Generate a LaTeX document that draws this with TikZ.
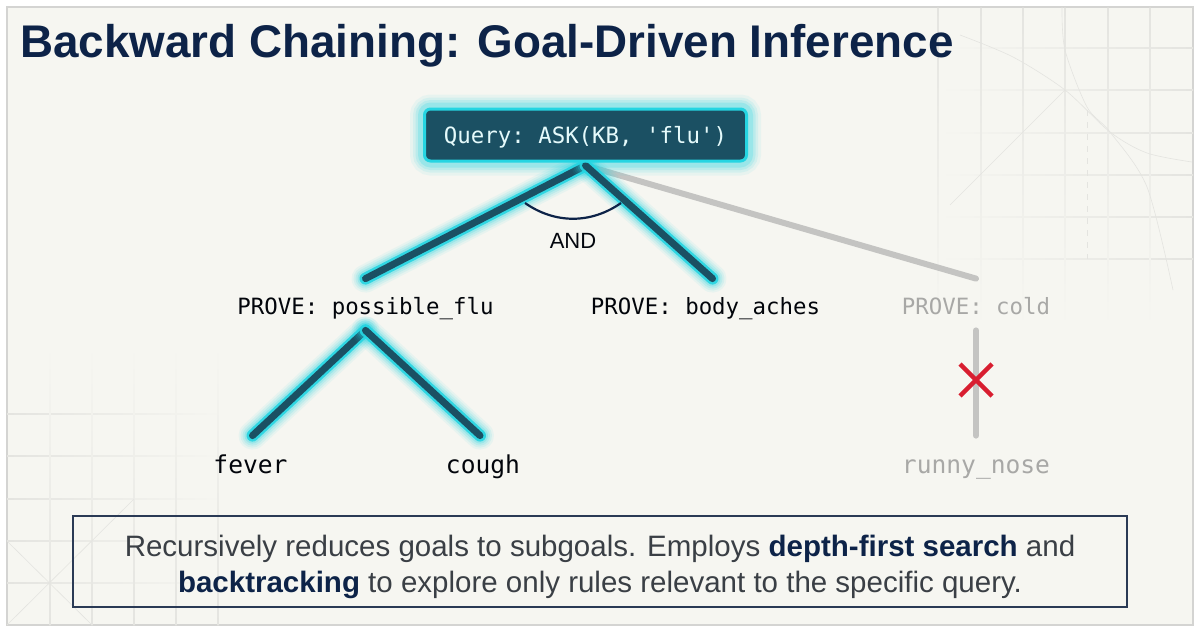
\documentclass[tikz,border=0pt]{standalone}
\usepackage{fontspec}
\setmainfont{Liberation Sans}
\setmonofont{DejaVu Sans Mono}
\usetikzlibrary{calc}
\definecolor{panel}{HTML}{F6F6F1}
\definecolor{edgegray}{HTML}{D4D4D2}
\definecolor{gridc}{HTML}{E4E4E0}
\definecolor{navy}{HTML}{0D2348}
\definecolor{boxline}{HTML}{2A3A55}
\definecolor{bodytext}{HTML}{3A3F45}
\definecolor{teal}{HTML}{1B5063}
\definecolor{cyanglow}{HTML}{25D5E2}
\definecolor{fadegray}{HTML}{C4C4C2}
\definecolor{fadetext}{HTML}{A8A8A6}
\definecolor{crossred}{HTML}{D81E30}
\pgfdeclarelayer{bg}
\pgfsetlayers{bg,main}
\newcommand{\glowpath}[1]{%
  \foreach \w/\o in {14/.07,12/.10,10/.14,8/.22,6/.9}{\draw[line width=\w pt,cyanglow,opacity=\o,line cap=round] #1;}
  \draw[line width=3.5pt,teal,line cap=round] #1;}
\tikzset{
  treetext/.style={font=\ttfamily,inner sep=0pt,text=black!85!navy},
  goal/.style={treetext,minimum height=25.5pt,minimum width=60pt,text height=11pt,text depth=1.5pt,font=\ttfamily\fontsize{11.2}{13}\selectfont},
  leaf/.style={treetext,minimum height=29pt,minimum width=40pt,text height=10pt,text depth=2pt,font=\ttfamily\fontsize{12.3}{14}\selectfont},
  fadedgoal/.style={text=fadetext},
  fadeline/.style={line width=3pt,fadegray,line cap=round},
  querybox/.style={draw=cyanglow,line width=1.5pt,fill=teal,rounded corners=3pt,minimum width=161pt,minimum height=26pt,inner sep=0pt,text height=10pt,text depth=2pt,text=white!88!cyanglow,font=\ttfamily\fontsize{11.2}{13}\selectfont},
  gridline/.style={gridc,line width=.3pt},
  summary/.style={draw=boxline,line width=.8pt,minimum width=527pt,minimum height=45.5pt,inner sep=0pt},
  summarytext/.style={inner sep=0pt,align=center,text=bodytext,font=\fontsize{14.75}{17.6}\selectfont}
}
\begin{document}
\begin{tikzpicture}[x=0.5pt,y=-0.5pt]
\useasboundingbox (0,0) rectangle (1200,632);
\begin{pgfonlayer}{bg}
\fill[white] (0,0) rectangle (1200,632);
\draw[fill=panel,draw=edgegray,line width=.6pt] (7,7) rectangle (1193,625);
% background construction grid, upper right
\foreach \y in {48,90,133,175,217,259}{\shade[left color=panel,right color=gridc] (938,\y-.45) rectangle (1193,\y+.45);}
\foreach \x in {938,981,1023,1065,1108,1150}{\shade[top color=gridc,bottom color=panel] (\x-.45,7) rectangle (\x+.45,328);}
\draw[gridline] plot[smooth] coordinates {(1062,7) (1065,50) (1087,107) (1110,132) (1147,187) (1173,290)};
\draw[gridline] plot[smooth] coordinates {(960,35) (1013,57) (1065,90) (1110,132) (1147,153) (1192,162)};
\draw[gridline] (1065,90) -- (950,205);
\draw[gridline,dashed] (1087,110) -- (1087,259);
% background construction grid, lower left
\foreach \y in {414,456,499,541,583}{\shade[left color=gridc,right color=panel] (7,\y-.45) rectangle (225,\y+.45);}
\foreach \x in {50,92,134,176,218}{\shade[top color=panel,bottom color=gridc] (\x-.45,345) rectangle (\x+.45,625);}
\draw[gridline] (7,541) -- (92,625) (7,625) -- (134,499);
\end{pgfonlayer}

\node[querybox] (q) at (585.5,135) {Query: ASK(KB, 'flu')};
\node[goal] (pf) at (365.5,304.5) {PROVE: possible\_flu};
\node[goal] (ba) at (705.5,304.5) {PROVE: body\_aches};
\node[goal,fadedgoal] (co) at (976,304.5) {PROVE: cold};
\node[leaf] (fe) at (250.5,465) {fever};
\node[leaf] (cg) at (483,465) {cough};
\node[leaf,fadedgoal] (rn) at (976,465) {runny\_nose};
\node[inner sep=0pt,text=black!80!navy,font=\fontsize{11}{14}\selectfont] (andl) at (573,241) {AND};
\coordinate (qa) at ($(q.south)+(0,3)$);
\coordinate (andl1) at (525,203);
\coordinate (andr) at (621,203);
\coordinate (xc) at (976,380);

\begin{pgfonlayer}{bg}
\draw[fadeline] (qa) -- (co.north);
\draw[fadeline] (co.south) -- (rn.north);
\foreach \w/\o in {13/.07,10/.10,7.5/.14,5/.22}{\draw[line width=\w pt,cyanglow,opacity=\o,rounded corners=4pt] (q.south west) rectangle (q.north east);}
\glowpath{(qa) -- (pf.north)}
\glowpath{(qa) -- ([xshift=3.5pt]ba.north)}
\glowpath{(pf.south) -- ([xshift=1pt]fe.north)}
\glowpath{(pf.south) -- ([xshift=-1.5pt]cg.north)}
\end{pgfonlayer}

\draw[navy,line width=1.1pt] (andl1) .. controls (555,224) and (591,224) .. (andr);
\draw[crossred,line width=2.2pt] ($(xc)+(-16,-16)$) -- ($(xc)+(16,16)$) ($(xc)+(-16,16)$) -- ($(xc)+(16,-16)$);

\node[anchor=west,inner sep=0pt,text=navy,font=\bfseries\fontsize{22.9}{28}\selectfont] (title) at (20,46) {Backward Chaining: Goal-Driven Inference};
\node[summary] (sum) at (600,561.5) {};
\node[summarytext] (sumt) at (600,567) {Recursively reduces goals to subgoals. Employs \textcolor{navy}{\bfseries depth-first search} and\\\textcolor{navy}{\bfseries backtracking} to explore only rules relevant to the specific query.};
\end{tikzpicture}
\end{document}
